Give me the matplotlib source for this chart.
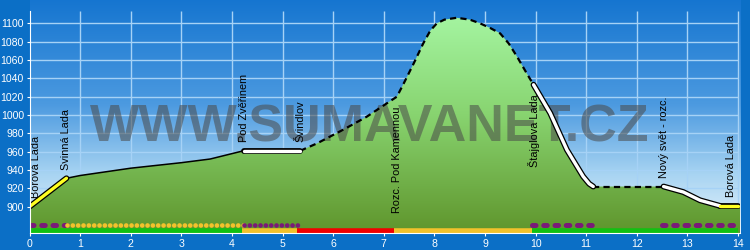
import numpy as np
import matplotlib
matplotlib.use("Agg")
import matplotlib.pyplot as plt
from matplotlib.colors import LinearSegmentedColormap
from matplotlib.patches import Polygon

# elevation profile (km, m)
km = [0.00, 0.73, 1.00, 2.00, 3.00, 3.57, 4.23, 5.35, 5.68, 6.20, 6.66, 7.26,
      7.40, 7.59, 7.78, 7.92, 8.05, 8.20, 8.44, 8.70, 8.90, 9.10, 9.30, 9.47,
      9.63, 9.83, 9.96, 10.29, 10.62, 10.94, 11.06, 11.14, 12.53, 12.92, 13.25,
      13.64, 14.00]
elev = [900, 931, 934, 942, 948, 952, 961, 961, 969, 984, 998, 1020,
        1035, 1056, 1078, 1092, 1100, 1104, 1106, 1104, 1100, 1095, 1089, 1078,
        1064, 1045, 1033, 1002, 962, 933, 925, 922, 922, 916, 907,
        901, 901]

# route segments: boundaries and line kind
seg_km = [0.00, 0.73, 4.23, 5.35, 9.96, 11.14, 12.53, 13.64, 14.00]
seg_kind = ['yellow', 'solid', 'white', 'dashed', 'white', 'dashed', 'white', 'yellow']

# waypoints
wp_names = ['Borová Lada', 'Svinná Lada', 'Pod Zvěřinem', 'Švindlov',
            'Rozc. Pod Kamennou', 'Štajglova Lada', 'Nový svět - rozc.', 'Borová Lada']
wp_km = [0.00, 0.73, 4.23, 5.35, 7.26, 9.96, 12.53, 14.00]
wp_below = [False, False, False, False, True, True, False, False]

# marking strips along the bottom
strip1_km = [0.00, 0.75, 4.23, 5.30, 9.92, 11.17, 12.49, 14.00]
strip1_kind = ['purple_dash', 'yellow_dot', 'purple_dot', None, 'purple_dash', None, 'purple_dash']
strip2_km = [0.00, 4.19, 5.29, 7.21, 9.92, 14.00]
strip2_col = ['#12c012', '#f2c22c', '#f20000', '#f2c22c', '#12c012']

km = np.array(km)
elev = np.array(elev)

fig = plt.figure(figsize=(7.5, 2.5), dpi=100)
fig.patch.set_facecolor('#0b6fc6')
ax = fig.add_axes([29.5 / 750, 16.7 / 250, 710.5 / 750, 233.3 / 250])
ax.set_xlim(0, 14.04)
ax.set_ylim(871, 1125.4)

# sky gradient
sky = LinearSegmentedColormap.from_list('sky', [(0, '#e8f4fc'), (0.25, '#a8d4f2'),
                                                (0.55, '#4c9ae0'), (1, '#1575d0')])
grad = np.linspace(0, 1, 256).reshape(-1, 1)
ax.imshow(grad, extent=[0, 1, 0, 1], transform=ax.transAxes, cmap=sky,
          origin='lower', aspect='auto', zorder=0)

# grid
ax.vlines(np.arange(1, 15), 871, 1113, color='#a6d2f6', lw=1.0, zorder=1)
ax.hlines(np.arange(900, 1101, 20), 0, 14, color='#a6d2f6', lw=1.0, zorder=1)

# green fill with gradient
verts = np.column_stack([np.r_[0, km, 14.04, 14.04], np.r_[871, elev, elev[-1], 871]])
poly = Polygon(verts, closed=True, facecolor='none', edgecolor='none', transform=ax.transData)
ax.add_patch(poly)
green = LinearSegmentedColormap.from_list('green', [(0, '#5f952c'), (0.55, '#88d470'),
                                                    (1, '#a4f4a0')])
im = ax.imshow(grad, extent=[0, 14.04, 871, 1106], cmap=green, origin='lower',
               aspect='auto', zorder=2)
im.set_clip_path(poly)

# watermark
ax.text(6.73, 986, 'WWW.SUMAVANET.CZ', fontsize=37.5, fontweight='bold',
        family='Liberation Sans', color='#4a4a4a', alpha=0.55,
        ha='center', va='center', zorder=3)

# profile line by segment
for i, kind in enumerate(seg_kind):
    m = (km >= seg_km[i] - 1e-6) & (km <= seg_km[i + 1] + 1e-6)
    x, y = km[m], elev[m]
    if kind in ('yellow', 'white'):
        c = '#ffff22' if kind == 'yellow' else 'white'
        ax.plot(x, y, color='black', lw=4.2, solid_capstyle='round', zorder=5)
        ax.plot(x, y, color=c, lw=2.4, solid_capstyle='round', zorder=6)
    elif kind == 'solid':
        ax.plot(x, y, color='black', lw=1.1, zorder=5)
    else:
        ax.plot(x, y, color='black', lw=1.6, dashes=(2.8, 1.9), zorder=5)

# waypoint labels
dx = {0: 5, 7: -5}
for i, (name, k) in enumerate(zip(wp_names, wp_km)):
    e = np.interp(k, km, elev)
    off = -7 if wp_below[i] else 6
    ax.annotate(name, (k, e), xytext=(dx.get(i, 0), off), textcoords='offset points',
                rotation=90, ha='center', va='top' if wp_below[i] else 'bottom',
                fontsize=7.8, family='Liberation Sans', color='black', zorder=7)

# strips
for i, kind in enumerate(strip1_kind):
    if kind is None:
        continue
    x = [strip1_km[i], strip1_km[i + 1]]
    if kind == 'purple_dash':
        ax.plot(x, [880, 880], color='#7a1a78', lw=3.6, dashes=(0.7, 1.55),
                dash_capstyle='round', zorder=4)
    else:
        c = '#f2c22c' if kind == 'yellow_dot' else '#7a1a78'
        ax.plot(x, [880, 880], color=c, lw=3.4, dashes=(0.01, 1.12),
                dash_capstyle='round', zorder=4)
for i, c in enumerate(strip2_col):
    ax.plot([strip2_km[i], strip2_km[i + 1]], [873.6, 873.6], color=c, lw=4.0,
            solid_capstyle='butt', zorder=4)

# axes styling
for s in ['top', 'right']:
    ax.spines[s].set_visible(False)
ax.spines['left'].set_color('white')
ax.spines['bottom'].set_color('white')
ax.spines['left'].set_bounds(871, 1113)
ax.spines['left'].set_zorder(8)
ax.spines['bottom'].set_zorder(8)
ax.set_xticks(np.arange(0, 15))
ax.set_yticks(np.arange(900, 1101, 20))
ax.tick_params(colors='white', labelsize=7.6, length=2.5, width=0.8, pad=1.5)
for lab in ax.get_xticklabels() + ax.get_yticklabels():
    lab.set_family('Liberation Sans')

fig.savefig('out.png', dpi=100, facecolor=fig.get_facecolor())
